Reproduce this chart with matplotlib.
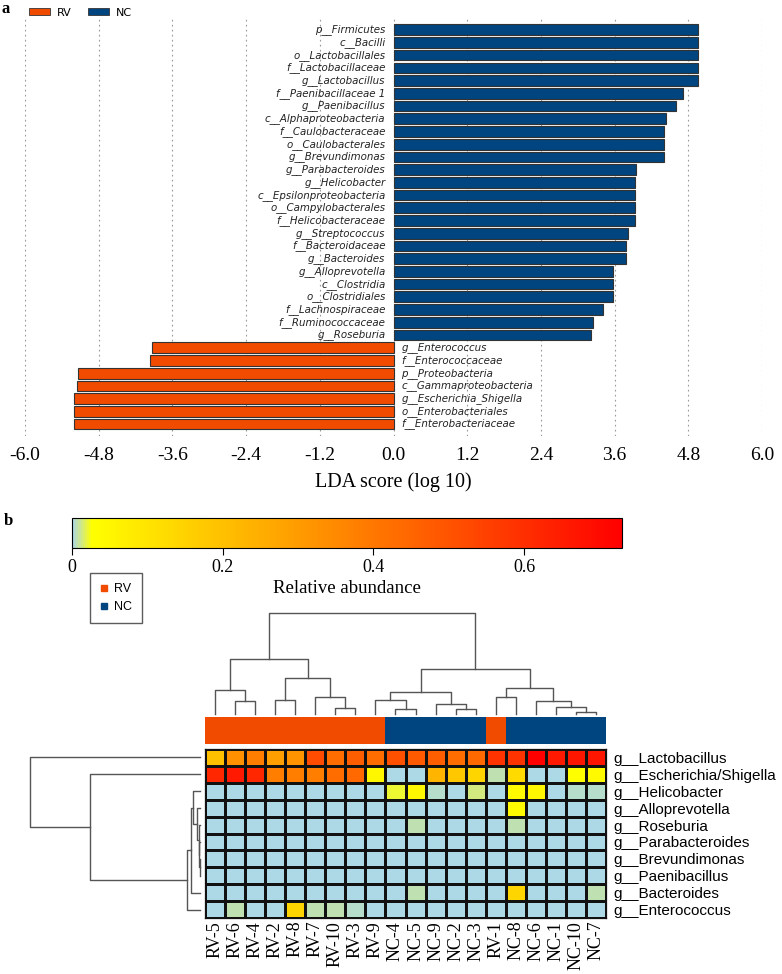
import numpy as np
import matplotlib
matplotlib.use('Agg')
import matplotlib.pyplot as plt
from matplotlib.colors import LinearSegmentedColormap, Normalize, ListedColormap
from matplotlib.patches import Patch
from matplotlib.lines import Line2D
import matplotlib.cm as cm

plt.rcParams['axes.unicode_minus'] = False

# ---------------- Panel a data ----------------
taxa = ["p__Firmicutes", "c__Bacilli", "o__Lactobacillales", "f__Lactobacillaceae",
        "g__Lactobacillus", "f__Paenibacillaceae 1", "g__Paenibacillus",
        "c__Alphaproteobacteria", "f__Caulobacteraceae", "o__Caulobacterales",
        "g__Brevundimonas", "g__Parabacteroides", "g__Helicobacter",
        "c__Epsilonproteobacteria", "o__Campylobacterales", "f__Helicobacteraceae",
        "g__Streptococcus", "f__Bacteroidaceae", "g__Bacteroides", "g__Alloprevotella",
        "c__Clostridia", "o__Clostridiales", "f__Lachnospiraceae", "f__Ruminococcaceae",
        "g__Roseburia", "g__Enterococcus", "f__Enterococcaceae", "p__Proteobacteria",
        "c__Gammaproteobacteria", "g__Escherichia_Shigella", "o__Enterobacteriales",
        "f__Enterobacteriaceae"]
lda = [4.96, 4.95, 4.95, 4.95, 4.95, 4.71, 4.60, 4.44, 4.40, 4.40, 4.40, 3.95, 3.93,
       3.93, 3.93, 3.93, 3.82, 3.79, 3.79, 3.58, 3.57, 3.57, 3.41, 3.25, 3.22,
       -3.94, -3.97, -5.13, -5.16, -5.20, -5.21, -5.21]
ticks_a = [-6.0, -4.8, -3.6, -2.4, -1.2, 0.0, 1.2, 2.4, 3.6, 4.8, 6.0]

groups = ["RV", "NC"]
group_colors = {"RV": "#F14B00", "NC": "#00457F"}

# ---------------- Panel b data ----------------
samples = ["RV-5", "RV-6", "RV-4", "RV-2", "RV-8", "RV-7", "RV-10", "RV-3", "RV-9",
           "NC-4", "NC-5", "NC-9", "NC-2", "NC-3", "RV-1", "NC-8", "NC-6", "NC-1",
           "NC-10", "NC-7"]
genera = ["g__Lactobacillus", "g__Escherichia/Shigella", "g__Helicobacter",
          "g__Alloprevotella", "g__Roseburia", "g__Parabacteroides",
          "g__Brevundimonas", "g__Paenibacillus", "g__Bacteroides", "g__Enterococcus"]
lacto = [0.20, 0.33, 0.38, 0.29, 0.32, 0.52, 0.43, 0.47, 0.43, 0.51,
         0.48, 0.47, 0.43, 0.44, 0.59, 0.59, 0.73, 0.66, 0.67, 0.67]
esch = [0.62, 0.66, 0.62, 0.38, 0.38, 0.38, 0.43, 0.44, 0.05, 0.0,
        0.0, 0.23, 0.18, 0.14, 0.007, 0.13, 0.0, 0.0, 0.03, 0.04]
helico = [0, 0, 0, 0, 0, 0, 0, 0, 0, 0.022,
          0.05, 0.004, 0, 0.012, 0, 0.04, 0.05, 0, 0.004, 0.004]
allo = [0, 0, 0, 0, 0, 0, 0, 0, 0, 0,
        0, 0, 0, 0, 0, 0.04, 0, 0, 0, 0.001]
roseb = [0, 0, 0, 0, 0, 0, 0, 0, 0, 0,
         0.007, 0, 0, 0, 0, 0.007, 0, 0, 0, 0]
parab = [0, 0, 0, 0, 0, 0, 0, 0, 0, 0,
         0, 0, 0, 0, 0, 0.002, 0, 0, 0, 0]
brevu = [0] * 20
paeni = [0] * 20
bacter = [0, 0, 0, 0, 0.001, 0, 0, 0, 0, 0,
          0.007, 0.002, 0, 0.002, 0, 0.14, 0, 0, 0, 0.007]
entero = [0, 0.006, 0, 0, 0.14, 0.006, 0.006, 0.004, 0, 0,
          0, 0.002, 0, 0, 0, 0, 0, 0, 0, 0]
abund = np.array([lacto, esch, helico, allo, roseb, parab, brevu, paeni, bacter, entero])
cbar_ticks = [0, 0.2, 0.4, 0.6]
vmax = 0.73

# dendrogram merges: (child_a, child_b, height); new node ids start at n_leaves
col_links = [(1, 2, 13), (0, 20, 24), (3, 4, 14), (6, 7, 6), (5, 23, 17), (22, 24, 36),
             (21, 25, 55), (9, 10, 5), (8, 27, 14), (12, 13, 5), (11, 29, 10),
             (28, 30, 22), (18, 19, 2), (17, 32, 7), (16, 33, 13), (14, 15, 17),
             (35, 34, 26), (31, 36, 45), (26, 37, 101)]
row_links = [(6, 7, 0.3), (5, 10, 0.6), (4, 11, 1.2), (3, 12, 3.3), (2, 13, 7),
             (14, 8, 9.3), (15, 9, 13), (1, 16, 110), (0, 17, 170)]


def dendro_segments(links, n):
    pos = {i: float(i) for i in range(n)}
    hgt = {i: 0.0 for i in range(n)}
    segs = []
    for k, (a, b, h) in enumerate(links):
        node = n + k
        segs.append(([pos[a], pos[a], pos[b], pos[b]], [hgt[a], h, h, hgt[b]]))
        pos[node] = (pos[a] + pos[b]) / 2.0
        hgt[node] = h
    return segs


W, H = 782, 974
fig = plt.figure(figsize=(W / 100, H / 100), dpi=100)


def ax_px(x0, y0, x1, y1):
    return fig.add_axes([x0 / W, 1 - y1 / H, (x1 - x0) / W, (y1 - y0) / H])


serif = "Liberation Serif"
sans = "Liberation Sans"

# ---------------- Panel a ----------------
axa = ax_px(25, 18, 762, 436)
n = len(taxa)
ypos = np.arange(n)[::-1]
cols = [group_colors["RV"] if v < 0 else group_colors["NC"] for v in lda]
axa.barh(ypos, lda, height=0.84, color=cols, edgecolor="#333333", linewidth=0.8, zorder=3)
for y, t, v in zip(ypos, taxa, lda):
    if v > 0:
        axa.text(-0.13, y, t, ha="right", va="center", fontsize=8.2, style="italic",
                 family="DejaVu Sans", fontstretch="condensed", color="#222222", zorder=4)
    else:
        axa.text(0.13, y, t, ha="left", va="center", fontsize=8.2, style="italic",
                 family="DejaVu Sans", fontstretch="condensed", color="#222222", zorder=4)
axa.set_xlim(-6.0, 6.0)
axa.set_ylim(-0.94, n - 1 + 0.92)
axa.set_xticks(ticks_a)
axa.set_xticklabels(["%.1f" % t for t in ticks_a], family=serif, fontsize=14)
axa.set_yticks([])
axa.tick_params(axis="x", length=0, pad=8)
for s in axa.spines.values():
    s.set_visible(False)
for t in ticks_a:
    axa.axvline(t, color="#999999", linestyle=(0, (1.5, 3)), linewidth=0.8, zorder=1)
axa.set_xlabel("LDA score (log 10)", family=serif, fontsize=14.5, labelpad=6)

leg_handles = [Patch(facecolor=group_colors[g], edgecolor="#333333", linewidth=0.6) for g in groups]
fig.legend(leg_handles, groups, loc="upper left", bbox_to_anchor=(21 / W, 1 - 0 / H),
           ncol=2, frameon=False, handlelength=1.9, handleheight=0.6,
           handletextpad=0.6, columnspacing=1.5, borderpad=0.2,
           prop={"family": "DejaVu Sans", "size": 8})
fig.text(2 / W, 1 - 9 / H, "a", family=serif, fontweight="bold", fontsize=12, va="center")
fig.text(4 / W, 1 - 521 / H, "b", family=serif, fontweight="bold", fontsize=12, va="center")

# ---------------- Panel b ----------------
cmap = LinearSegmentedColormap.from_list(
    "abund", [(0.0, "#ADD8E6"), (0.035, "#FFFF00"), (1.0, "#FF0000")])
norm = Normalize(vmin=0, vmax=vmax)

cax = ax_px(72, 518, 622, 548)
cb = fig.colorbar(cm.ScalarMappable(norm=norm, cmap=cmap), cax=cax, orientation="horizontal")
cb.set_ticks(cbar_ticks)
cb.set_ticklabels(["0", "0.2", "0.4", "0.6"])
cb.ax.tick_params(labelsize=13, length=5, width=0.8, pad=3)
for lab in cb.ax.get_xticklabels():
    lab.set_family(serif)
cb.outline.set_linewidth(0.8)
cb.set_label("Relative abundance", family=serif, fontsize=13.5, labelpad=3)

leg2 = [Line2D([], [], marker="s", linestyle="", markersize=4.5, color=group_colors[g]) for g in groups]
fig.legend(leg2, groups, loc="upper left", bbox_to_anchor=(90 / W, 1 - 573 / H),
           frameon=True, fancybox=False, edgecolor="#333333", handlelength=0.7,
           handletextpad=0.4, labelspacing=0.5, borderpad=0.8, borderaxespad=0,
           prop={"family": sans, "size": 9})

# top dendrogram
axd = ax_px(205, 613, 606, 714)
for xs, ys in dendro_segments(col_links, len(samples)):
    axd.plot(xs, ys, color="#555555", linewidth=1.0, clip_on=False)
axd.set_xlim(-0.5, len(samples) - 0.5)
axd.set_ylim(0, 101)
axd.axis("off")

# column annotation
axc = ax_px(205, 717, 606, 744)
codes = np.array([[0 if s.startswith("RV") else 1 for s in samples]])
axc.pcolormesh(np.arange(len(samples) + 1) - 0.5, [0, 1], codes,
               cmap=ListedColormap([group_colors["RV"], group_colors["NC"]]), vmin=0, vmax=1)
axc.set_xlim(-0.5, len(samples) - 0.5)
axc.axis("off")

# heatmap
axh = ax_px(205, 749, 606, 918)
axh.pcolormesh(np.arange(len(samples) + 1) - 0.5, np.arange(len(genera) + 1) - 0.5, abund,
               cmap=cmap, norm=norm, edgecolors="#111111", linewidth=0.9)
axh.set_xlim(-0.5, len(samples) - 0.5)
axh.set_ylim(len(genera) - 0.5, -0.5)
axh.set_xticks(range(len(samples)))
axh.set_xticklabels(samples, rotation=90, family=serif, fontsize=13)
axh.set_yticks(range(len(genera)))
axh.set_yticklabels(genera, family=sans, fontsize=11)
axh.yaxis.tick_right()
axh.tick_params(axis="both", length=0)
axh.tick_params(axis="x", pad=2)
axh.tick_params(axis="y", pad=5)
for s in axh.spines.values():
    s.set_linewidth(0.9)
    s.set_color("#111111")

# left dendrogram
axl = ax_px(30, 749, 200, 918)
for ys, xs in dendro_segments(row_links, len(genera)):
    axl.plot(xs, ys, color="#555555", linewidth=1.0, clip_on=False)
axl.set_xlim(170, 0)
axl.set_ylim(len(genera) - 0.5, -0.5)
axl.axis("off")

fig.savefig("out.png", dpi=100)
